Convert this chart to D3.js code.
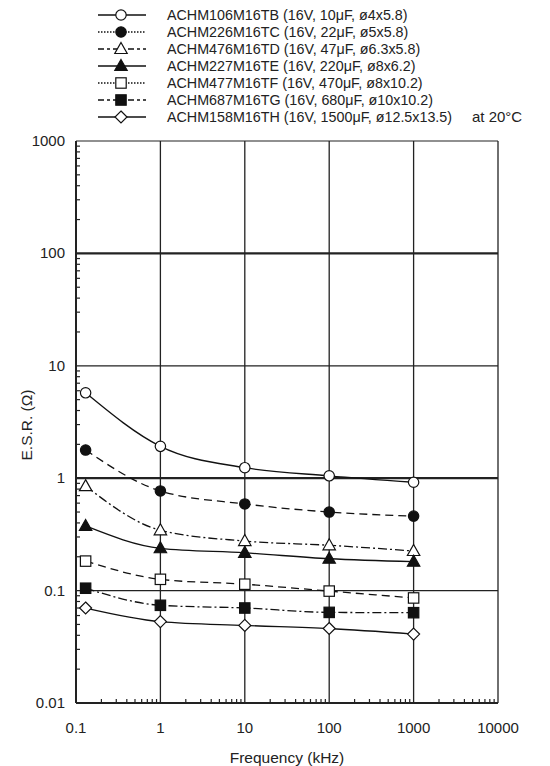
<!DOCTYPE html>
<html>
<head>
<meta charset="utf-8">
<script src="https://cdn.jsdelivr.net/npm/d3@7"></script>
<style>
  body { margin: 0; background: #fff; }
  svg { font-family: "Liberation Sans", Arial, sans-serif; }
  .tick-label { font-size: 15px; fill: #222; }
  .legend-text { font-size: 14.3px; fill: #222; }
</style>
</head>
<body>
<svg id="chart" width="550" height="766"></svg>
<script>
// Chart data
const freqs = [0.13, 1, 10, 100, 1000];
const seriesNames = [
  "ACHM106M16TB (16V, 10\u03bcF, \u00f84x5.8)",
  "ACHM226M16TC (16V, 22\u03bcF, \u00f85x5.8)",
  "ACHM476M16TD (16V, 47\u03bcF, \u00f86.3x5.8)",
  "ACHM227M16TE (16V, 220\u03bcF, \u00f88x6.2)",
  "ACHM477M16TF (16V, 470\u03bcF, \u00f88x10.2)",
  "ACHM687M16TG (16V, 680\u03bcF, \u00f810x10.2)",
  "ACHM158M16TH (16V, 1500\u03bcF, \u00f812.5x13.5)"
];
const esrTB = [5.75, 1.92, 1.24, 1.05, 0.92];
const esrTC = [1.78, 0.77, 0.59, 0.50, 0.46];
const esrTD = [0.85, 0.344, 0.276, 0.253, 0.225];
const esrTE = [0.376, 0.238, 0.217, 0.192, 0.181];
const esrTF = [0.183, 0.126, 0.114, 0.099, 0.086];
const esrTG = [0.105, 0.074, 0.070, 0.064, 0.0636];
const esrTH = [0.070, 0.053, 0.049, 0.046, 0.041];
const xTicks = [0.1, 1, 10, 100, 1000, 10000];
const yTicks = [0.01, 0.1, 1, 10, 100, 1000];
const xTickLabels = ["0.1", "1", "10", "100", "1000", "10000"];
const yTickLabels = ["0.01", "0.1", "1", "10", "100", "1000"];

const allSeries = [esrTB, esrTC, esrTD, esrTE, esrTF, esrTG, esrTH];
// marker shape, filled, plot dash, legend dash
const styles = [
  { shape: "circle", fill: false, dash: null, legDash: null },
  { shape: "circle", fill: true, dash: "8,5", legDash: "1.5,1.5" },
  { shape: "triangle", fill: false, dash: "9,3,2,3", legDash: "6,3,3,3" },
  { shape: "triangle", fill: true, dash: null, legDash: null },
  { shape: "square", fill: false, dash: "8,5", legDash: "1.5,1.5" },
  { shape: "square", fill: true, dash: "9,3,2,3", legDash: "6,3,3,3" },
  { shape: "diamond", fill: false, dash: null, legDash: null }
];

const svg = d3.select("#chart");
const margin = { left: 76, right: 52, top: 141, bottom: 63 };
const width = 550, height = 766;

const x = d3.scaleLog().domain([0.1, 10000]).range([margin.left, width - margin.right]);
const y = d3.scaleLog().domain([0.01, 1000]).range([height - margin.bottom, margin.top]);

const plot = svg.append("g");

// vertical grid lines
plot.selectAll("line.vgrid").data(xTicks.slice(1))
  .join("line")
  .attr("x1", d => x(d)).attr("x2", d => x(d))
  .attr("y1", y(0.01)).attr("y2", y(1000))
  .attr("stroke", "#222").attr("stroke-width", 1.3);

// horizontal grid lines, 100 and 1 drawn heavier
plot.selectAll("line.hgrid").data(yTicks.slice(1))
  .join("line")
  .attr("x1", x(0.1)).attr("x2", x(10000))
  .attr("y1", d => y(d)).attr("y2", d => y(d))
  .attr("stroke", "#222")
  .attr("stroke-width", d => (d === 100 || d === 1) ? 2.2 : 1.2);

// minor ticks
const minors = [];
for (let e = -2; e < 3; e++) for (let m = 2; m <= 9; m++) minors.push(m * Math.pow(10, e));
plot.selectAll("line.ymin").data(minors)
  .join("line")
  .attr("x1", x(0.1)).attr("x2", x(0.1) + 4)
  .attr("y1", d => y(d)).attr("y2", d => y(d))
  .attr("stroke", "#222").attr("stroke-width", 1.2);
const xminors = [];
for (let e = -1; e < 4; e++) for (let m = 2; m <= 9; m++) xminors.push(m * Math.pow(10, e));
plot.selectAll("line.xmin").data(xminors)
  .join("line")
  .attr("x1", d => x(d)).attr("x2", d => x(d))
  .attr("y1", y(0.01)).attr("y2", y(0.01) - 4)
  .attr("stroke", "#222").attr("stroke-width", 1.2);

// axis lines
plot.append("line")
  .attr("x1", x(0.1)).attr("x2", x(0.1)).attr("y1", y(0.01)).attr("y2", y(1000))
  .attr("stroke", "#222").attr("stroke-width", 2);
plot.append("line")
  .attr("x1", x(0.1)).attr("x2", x(10000)).attr("y1", y(0.01)).attr("y2", y(0.01))
  .attr("stroke", "#222").attr("stroke-width", 2);

// tick labels
svg.selectAll("text.ylab").data(yTicks)
  .join("text")
  .attr("class", "tick-label")
  .attr("x", x(0.1) - 11).attr("y", d => y(d) + 5)
  .attr("text-anchor", "end")
  .text((d, i) => yTickLabels[i]);
svg.selectAll("text.xlab").data(xTicks)
  .join("text")
  .attr("class", "tick-label")
  .attr("x", d => x(d)).attr("y", 733)
  .attr("text-anchor", "middle")
  .text((d, i) => xTickLabels[i]);

// axis titles
svg.append("text").attr("class", "tick-label")
  .attr("x", 287).attr("y", 763).attr("text-anchor", "middle")
  .style("font-size", "15.5px")
  .text("Frequency (kHz)");
svg.append("text").attr("class", "tick-label")
  .attr("transform", "translate(32,425) rotate(-90)")
  .attr("text-anchor", "middle")
  .style("font-size", "15.5px")
  .text("E.S.R. (\u03a9)");

// marker drawing
function drawMarker(g, st, cx, cy) {
  const fill = st.fill ? "#111" : "#fff";
  let m;
  if (st.shape === "circle") {
    m = g.append("circle").attr("cx", cx).attr("cy", cy).attr("r", 5.2);
  } else if (st.shape === "square") {
    m = g.append("rect").attr("x", cx - 5.2).attr("y", cy - 5.2).attr("width", 10.4).attr("height", 10.4);
  } else if (st.shape === "triangle") {
    m = g.append("path").attr("d", `M${cx},${cy - 6.5}L${cx + 6.2},${cy + 4.5}L${cx - 6.2},${cy + 4.5}Z`);
  } else {
    m = g.append("path").attr("d", `M${cx},${cy - 6}L${cx + 6},${cy}L${cx},${cy + 6}L${cx - 6},${cy}Z`);
  }
  m.attr("fill", fill).attr("stroke", "#111").attr("stroke-width", 1.2);
}

// series lines and markers
const line = d3.line()
  .x((d, i) => x(freqs[i]))
  .y(d => y(d))
  .curve(d3.curveMonotoneX);

allSeries.forEach((vals, k) => {
  const st = styles[k];
  plot.append("path")
    .attr("d", line(vals))
    .attr("fill", "none")
    .attr("stroke", "#111")
    .attr("stroke-width", 1.3)
    .attr("stroke-dasharray", st.dash);
});
allSeries.forEach((vals, k) => {
  vals.forEach((v, i) => drawMarker(plot, styles[k], x(freqs[i]), y(v)));
});

// legend
const legend = svg.append("g");
seriesNames.forEach((name, k) => {
  const st = styles[k];
  const ly = 15 + k * 17;
  legend.append("line")
    .attr("x1", 98).attr("x2", 146).attr("y1", ly).attr("y2", ly)
    .attr("stroke", "#111").attr("stroke-width", 1.3)
    .attr("stroke-dasharray", st.legDash);
  drawMarker(legend, st, 121, ly);
  legend.append("text")
    .attr("class", "legend-text")
    .attr("x", 167).attr("y", ly + 5)
    .text(name);
});
legend.append("text")
  .attr("class", "legend-text")
  .attr("x", 472).attr("y", 117 + 5)
  .style("font-size", "15px")
  .text("at 20\u00b0C");
</script>
</body>
</html>
